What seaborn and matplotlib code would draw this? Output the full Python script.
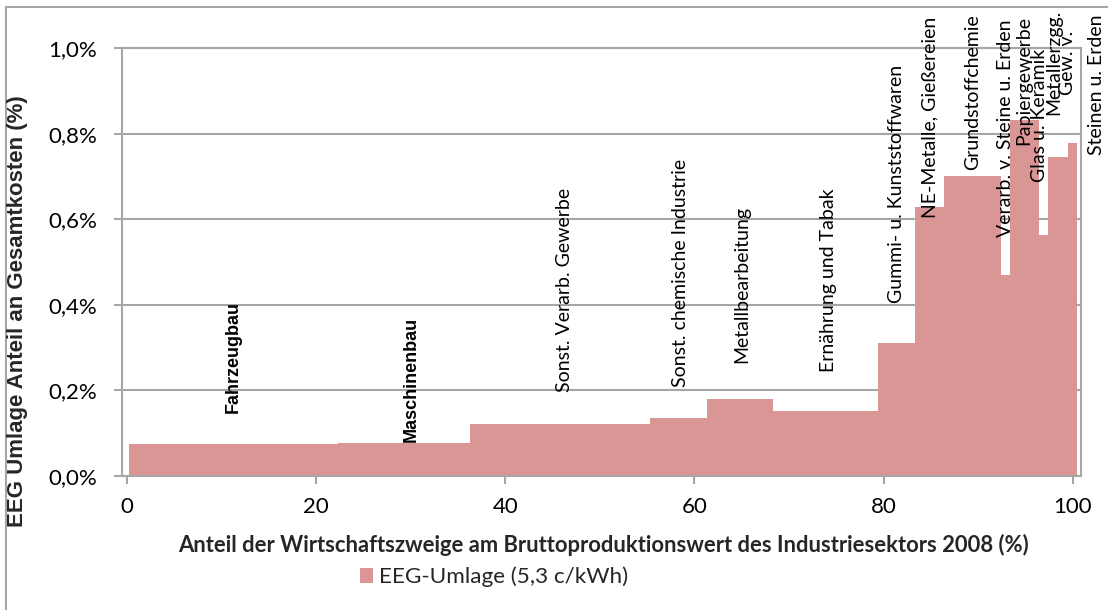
import numpy as np
import pandas as pd
import seaborn as sns
import matplotlib.pyplot as plt
from matplotlib.patches import Patch
from matplotlib.lines import Line2D

# Wirtschaftszweige, Anteil am Bruttoproduktionswert (Breite, %) und EEG-Umlage-Anteil (%)
sectors = ['Fahrzeugbau', 'Maschinenbau', 'Sonst. Verarb. Gewerbe', 'Sonst. chemische Industrie',
           'Metallbearbeitung', 'Ernährung und Tabak', 'Gummi- u. Kunststoffwaren',
           'NE-Metalle, Gießereien', 'Grundstoffchemie', 'Verarb. v. Steine u. Erden',
           'Papiergewerbe', 'Glas u. Keramik', 'Metallerzgg.\nGew. v.', 'Steinen u. Erden']
anteil = [22.1, 14.0, 19.0, 6.0, 7.0, 11.1, 3.9, 3.1, 6.0, 0.9, 3.1, 1.0, 2.1, 0.9]
umlage = [0.075, 0.078, 0.121, 0.135, 0.180, 0.152, 0.310, 0.629, 0.700, 0.470, 0.832, 0.563, 0.745, 0.778]
start = 0.2

xticks = [0, 20, 40, 60, 80, 100]
yticks = [0.0, 0.2, 0.4, 0.6, 0.8, 1.0]
ytick_labels = ['0,0%', '0,2%', '0,4%', '0,6%', '0,8%', '1,0%']

# label placement (bottom of rotated text, in axis units) and x nudges
label_y = [0.147, 0.079, 0.196, 0.208, 0.264, 0.243, 0.404, 0.603, 0.715, 0.558, 0.773, 0.687, 0.843, 0.750]
label_dx = [0, 0.8, 0.5, 0.2, 0.2, 0.35, 0, 0, 0, 0, 0, -0.4, 0.25, 2.5]

edges = start + np.concatenate([[0], np.cumsum(anteil)])
centers = (edges[:-1] + edges[1:]) / 2
df = pd.DataFrame({'sector': sectors, 'center': centers, 'umlage': umlage})

bar_color = '#d99694'
grid_color = '#a6a6a6'
arial = ['Liberation Sans', 'DejaVu Sans']

sns.set_theme(style='white')
plt.rcParams['font.family'] = ['Lato', 'DejaVu Sans']

fig = plt.figure(figsize=(11.08, 6.10), dpi=100)
ax = fig.add_axes([122 / 1108, 1 - 476 / 610, (1081 - 122) / 1108, (476 - 48) / 610])

sns.histplot(x=df['center'], weights=df['umlage'], bins=list(edges), stat='count',
             color=bar_color, alpha=1, linewidth=0, ax=ax, zorder=2)

ax.set_xlim(-0.5, 100.85)
ax.set_ylim(0, 1.0)
ax.set_xticks(xticks)
ax.set_xticklabels([str(t) for t in xticks], fontsize=16)
ax.set_yticks(yticks)
ax.set_yticklabels(ytick_labels, fontsize=16)
ax.yaxis.grid(True, color=grid_color, linewidth=1.5, zorder=0)
ax.set_axisbelow(True)
for sp in ax.spines.values():
    sp.set_color(grid_color)
    sp.set_linewidth(1.5)
ax.tick_params(axis='both', which='both', length=6, width=1.5, color=grid_color,
               labelcolor='black')
ax.tick_params(axis='y', left=True, pad=12)
ax.tick_params(axis='x', bottom=True, pad=9)
ax.set_xlabel('')
ax.set_ylabel('')

fig.text(603 / 1108, 1 - 545 / 610,
         'Anteil der Wirtschaftszweige am Bruttoproduktionswert des Industriesektors 2008 (%)',
         fontsize=15.8, fontweight='bold', ha='center', va='center')
fig.text(18 / 1108, 1 - 311 / 610, 'EEG Umlage Anteil an Gesamtkosten (%)', family=arial,
         fontsize=16, fontweight='bold', rotation=90, ha='center', va='center')

for i, name in enumerate(sectors):
    kw = dict(rotation=90, ha='center', va='bottom', fontsize=14, multialignment='center',
              linespacing=0.8, color='black')
    if i < 2:
        kw.update(family=arial, fontweight='bold', fontsize=13)
    ax.text(centers[i] + label_dx[i], label_y[i], name, zorder=3, **kw)

handle = Patch(facecolor=bar_color, edgecolor='none')
fig.legend([handle], ['EEG-Umlage (5,3 c/kWh)'], loc='center left',
           bbox_to_anchor=(340 / 1108, 1 - 577 / 610), frameon=False, fontsize=16.2,
           handlelength=0.55, handleheight=0.6, handletextpad=0.3)

# chart frame (left and top border visible)
fig.add_artist(Line2D([6 / 1108, 6 / 1108], [0, 1 - 7 / 610], transform=fig.transFigure,
                      color=grid_color, linewidth=1.5))
fig.add_artist(Line2D([6 / 1108, 1], [1 - 7 / 610, 1 - 7 / 610], transform=fig.transFigure,
                      color=grid_color, linewidth=1.5))

fig.savefig('out.png', dpi=100)
